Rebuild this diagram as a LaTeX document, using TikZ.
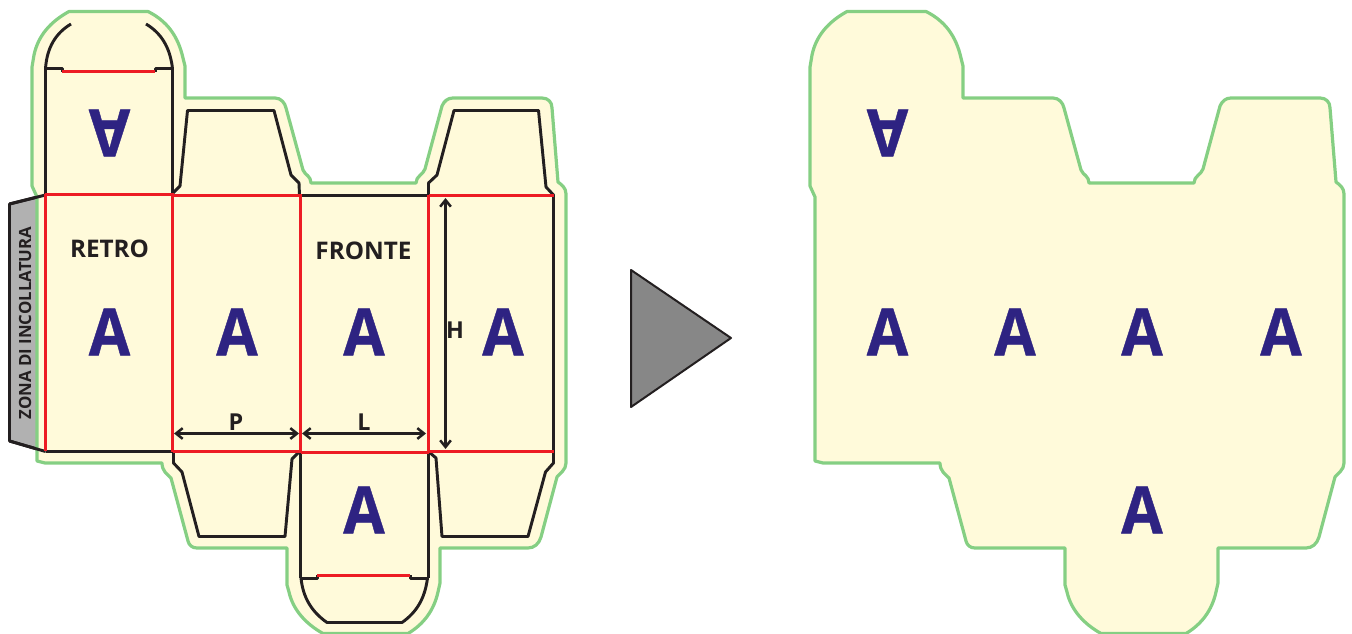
\documentclass[tikz,border=0pt]{standalone}
\usepackage{fontspec}
\setmainfont{Open Sans}
\newfontfamily\letterfont[FakeStretch=0.92,BoldFeatures={FakeBold=0.6}]{Open Sans}
\usetikzlibrary{arrows.meta}
\definecolor{cream}{HTML}{FFFADA}
\definecolor{bordergreen}{HTML}{85CF83}
\definecolor{inkdark}{HTML}{231F20}
\definecolor{cutred}{HTML}{ED1C24}
\definecolor{letterblue}{HTML}{2E2382}
\definecolor{flapgray}{HTML}{B1B1B1}
\definecolor{playgray}{HTML}{878787}
\newcommand{\boxoutline}{(69,11.5) -- (148,11.5) .. controls (167,21) and (178,36) .. (183,58) -- (185,66) -- (185,98) -- (275,98) .. controls (281,98) and (285,103) .. (286,108) -- (303,170) .. controls (305,175) and (311,176) .. (311,183) -- (416,183) .. controls (416,176) and (423,175) .. (425,169) -- (442,106) .. controls (444,101) and (448,98) .. (453,98) -- (542,98) .. controls (548,98) and (552,102) .. (552,108) -- (558,182) .. controls (562,185) and (566,188) .. (566,194) -- (566,463) .. controls (566,470) and (560,473) .. (557,477) -- (541,537) .. controls (539,544) and (534,548) .. (528,548) -- (440,548) -- (440,583) -- (438,592) .. controls (434,610) and (424,624) .. (408,633.5) -- (323,633.5) .. controls (306,624) and (293,610) .. (289,592) -- (287,585) -- (287,548) -- (197,548) .. controls (192,548) and (189,545) .. (188,541) -- (171,478) .. controls (167,474) and (162,471) .. (162,463) -- (45,463) -- (37,461) -- (37,197) -- (32,186) -- (32,67) -- (34,55) .. controls (38,36) and (50,22) .. (69,11.5) -- cycle}
\tikzset{
  outlinestyle/.style={fill=cream,draw=bordergreen,line width=2.4pt,line join=round},
  cutline/.style={draw=inkdark,line width=2.2pt,line join=round},
  foldline/.style={draw=cutred,line width=2.2pt},
  dimline/.style={draw=inkdark,line width=1.9pt,{Straight Barb[length=5pt,width=8pt]}-{Straight Barb[length=5pt,width=8pt]}},
  bigA/.style={text=letterblue,inner sep=0pt,font=\letterfont\fontsize{49}{49}\selectfont\bfseries},
  panellabel/.style={text=inkdark,inner sep=0pt,font=\fontsize{18.2}{18.2}\selectfont\bfseries},
  dimlabel/.style={text=inkdark,inner sep=0pt,font=\fontsize{17.5}{17.5}\selectfont\bfseries},
}
\begin{document}
\begin{tikzpicture}[x=0.75pt,y=-0.75pt]
\useasboundingbox (0,0) rectangle (1352,634);
% glue flap
\fill[flapgray] (9,204) -- (45,195) -- (45,451) -- (9,441) -- cycle;
\draw[cutline] (45.5,451.5) -- (9.5,441) -- (9.5,204) -- (45.5,195);
% left outline
\path[outlinestyle] \boxoutline;
\draw[cutline] (9.5,204) -- (45.5,195);
\draw[cutline] (45.5,451.5) -- (9.5,441);
% cut lines
\draw[cutline] (71,24) .. controls (56,33) and (47,47) .. (45.5,68.5) -- (62.5,68.5) -- (62.5,72);
\draw[cutline] (146,24) .. controls (161,33) and (170,47) .. (172.5,68.5) -- (155.5,68.5) -- (155.5,72);
\draw[cutline] (45.5,68.5) -- (45.5,194);
\draw[cutline] (172.5,68.5) -- (172.5,194);
\draw[cutline] (173,193) -- (180,186) -- (187.5,110.5) -- (274,110.5) -- (291,175) -- (299,183) -- (299.5,195.5) -- (428.5,195.5) -- (428.5,183) -- (437,175) -- (454,110.5) -- (538.5,110.5) -- (546,187) -- (553.5,195) -- (553.5,463) -- (545.5,472) -- (528,536.5) -- (442,536.5) -- (436,458) -- (429,452);
\draw[cutline] (45.5,451.5) -- (173.5,451.5) -- (173.5,463) -- (182,472) -- (199,536.5) -- (285,536.5) -- (292,459) -- (299,452);
\draw[cutline] (300.5,452) -- (300.5,578);
\draw[cutline] (428.5,452) -- (428.5,578);
\draw[cutline] (300.5,578.5) -- (317.5,578.5) -- (317.5,575);
\draw[cutline] (428.5,578.5) -- (410.5,578.5) -- (410.5,575);
\draw[cutline] (301,578) .. controls (303,598) and (312,612) .. (327,622.5) -- (402,622.5) .. controls (417,612) and (425,598) .. (427.5,578);
% fold lines
\draw[foldline] (62,71.5) -- (155,71.5);
\draw[foldline] (317,575.5) -- (410,575.5);
\draw[foldline] (44.5,194.5) -- (172.5,194.5) -- (172.5,451.5) (172.5,195.5) -- (300.5,195.5) -- (300.5,452.5);
\draw[foldline] (428.5,195.5) -- (553.5,195.5);
\draw[foldline] (45.5,194) -- (45.5,451);
\draw[foldline] (428.5,195) -- (428.5,452);
\draw[foldline] (172.5,451.5) -- (300.5,451.5);
\draw[foldline] (300.5,452.5) -- (428.5,452.5);
\draw[foldline] (428.5,451.5) -- (553.5,451.5);
% dimensions
\coordinate (pa) at (174,433.5); \coordinate (pb) at (299,433.5);
\coordinate (la) at (302,433.5); \coordinate (lb) at (426,433.5);
\coordinate (ha) at (445.5,198); \coordinate (hb) at (445.5,449);
\draw[dimline] (pa) -- (pb);
\draw[dimline] (la) -- (lb);
\draw[dimline] (ha) -- (hb);
% labels
\node[panellabel] (retro) at (109.5,249) {RETRO};
\node[panellabel] (fronte) at (363.5,251) {FRONTE};
\node[dimlabel] (p) at (236,422) {P};
\node[dimlabel] (l) at (364,422) {L};
\node[dimlabel] (h) at (455,330) {H};
\node[text=inkdark,inner sep=0pt,rotate=90,font=\fontsize{12.6}{12.6}\selectfont\bfseries] (zona) at (25,323) {ZONA DI INCOLLATURA};
\node[bigA] (a1) at (109.5,332) {A};
\node[bigA] (a2) at (237,332) {A};
\node[bigA] (a3) at (364,332) {A};
\node[bigA] (a4) at (503,332) {A};
\node[bigA] (a5) at (364,510) {A};
\node[bigA,rotate=180] (a6) at (109.5,133) {A};
% arrow
\path[fill=playgray,draw=inkdark,line width=1.5pt,line join=round] (631,270) -- (731,338) -- (631,407) -- cycle;
% right side
\begin{scope}[shift={(778,0)}]
\path[outlinestyle] \boxoutline;
\end{scope}
\node[bigA] (b1) at (887.5,332) {A};
\node[bigA] (b2) at (1015,332) {A};
\node[bigA] (b3) at (1142,332) {A};
\node[bigA] (b4) at (1281,332) {A};
\node[bigA] (b5) at (1142,510) {A};
\node[bigA,rotate=180] (b6) at (887.5,133) {A};
\end{tikzpicture}
\end{document}
